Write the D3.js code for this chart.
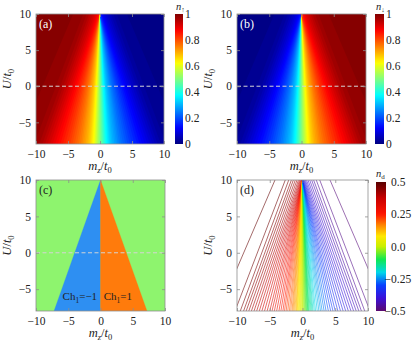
<!DOCTYPE html>
<html><head><meta charset="utf-8">
<script src="https://cdn.jsdelivr.net/npm/d3@7"></script>
<style>
body{margin:0;background:#fff}
svg{display:block}
text{font-family:"Liberation Serif","Times New Roman",serif;fill:#222}
</style>
</head><body>
<svg id="chart" width="415" height="342"></svg>
<script>
// ---------------- data ----------------
const mzDomain = [-10, 10];
const uDomain = [-8, 10];
const mzTicks = [-10, -5, 0, 5, 10];
const uTicks = [-5, 0, 5, 10];
const nTicks = [0, 0.2, 0.4, 0.6, 0.8, 1];
const nTickLabels = ["0", "0.2", "0.4", "0.6", "0.8", "1"];
const ndTicks = [0.5, 0.25, 0, -0.25, -0.5];
const ndTickLabels = ["0.5", "0.25", "0.0", "0.25", "0.5"];
const ndTickNeg = [false, false, false, true, true];

// contour lines of n_d (straight lines), left to right:
// level, m_z at U=10 (top) and m_z at U=-8 (bottom)
const contourLevel = [
 0.4875,0.475,0.4625,0.45,0.4375,0.425,0.4125,0.4,0.3875,0.375,
 0.3625,0.35,0.3375,0.325,0.3125,0.3,0.2875,0.275,0.2625,0.25,
 0.2375,0.225,0.2125,0.2,0.1875,0.175,0.1625,0.15,0.1375,0.125,
 0.1125,0.1,0.0875,0.075,0.0625,0.05,0.0375,0.025,0.0125,0,
 -0.0125,-0.025,-0.0375,-0.05,-0.0625,-0.075,-0.0875,-0.1,-0.1125,-0.125,
 -0.1375,-0.15,-0.1625,-0.175,-0.1875,-0.2,-0.2125,-0.225,-0.2375,-0.25,
 -0.2625,-0.275,-0.2875,-0.3,-0.3125,-0.325,-0.3375,-0.35,-0.3625,-0.375,
 -0.3875,-0.4,-0.4125,-0.425,-0.4375,-0.45,-0.4625,-0.475,-0.4875];
const contourTopM = [
 -4.2,-2.63,-2.1,-1.7,-1.4,-1.1,-0.84,-0.62,-0.45,-0.32,
 -0.22,-0.14,-0.08,-0.04,-0.02,0,0,0,0,0,
 0,0,0,0,0,0,0,0,0,0,
 0,0,0,0,0,0,0,0,0,0,
 0,0,0,0,0,0,0,0,0,0,
 0,0,0,0,0,0,0,0,0,0,
 0,0,0,0,0.02,0.04,0.08,0.14,0.22,0.32,
 0.45,0.62,0.84,1.1,1.4,1.7,2.1,2.63,4.2];
const contourBottomM = [
 -12.8,-10.3,-9.5,-9.0,-8.6,-8.2,-7.8,-7.4,-7.0,-6.6,
 -6.2,-5.8,-5.4,-5.0,-4.65,-4.3,-3.95,-3.6,-3.3,-3.0,
 -2.75,-2.5,-2.25,-2.0,-1.8,-1.6,-1.45,-1.3,-1.15,-1.0,
 -0.9,-0.8,-0.7,-0.6,-0.5,-0.4,-0.3,-0.2,-0.1,0,
 0.1,0.2,0.3,0.4,0.5,0.6,0.7,0.8,0.9,1.0,
 1.15,1.3,1.45,1.6,1.8,2.0,2.25,2.5,2.75,3.0,
 3.3,3.6,3.95,4.3,4.65,5.0,5.4,5.8,6.2,6.6,
 7.0,7.4,7.8,8.2,8.6,9.0,9.5,10.3,12.8];
const ndRange = [0.5, -0.5];

// phase diagram (c)
const phaseApex = {m: 0, U: 10};
const phaseBaseU = -8;
const phaseBaseM = [-7.2, 0, 7.2];
const phaseColors = {trivial: "#8ef46e", minus: "#2e8ff2", plus: "#ff7b0c"};
const chernLabelM = [-3.2, 2.7];
const chernLabelU = -6.5;
const chernValues = ["−1", "1"];

// n_d colormap stops
const ndCmapStops = [-0.5, -0.4, -0.3, -0.2, -0.1, 0, 0.08, 0.16, 0.25, 0.375, 0.5];
const ndCmapColors = ["#5b0a6e", "#3a10d8", "#0840ff", "#00d8e8", "#10e850", "#c8f000", "#ffe800", "#ff8c00", "#ff1500", "#c80000", "#580000"];

// ---------------- layout ----------------
const svg = d3.select("#chart");
const P = {
  a: {x0: 36, x1: 164, y0: 14, y1: 144},
  b: {x0: 237, x1: 366, y0: 14, y1: 144},
  c: {x0: 36, x1: 165, y0: 180, y1: 311},
  d: {x0: 237, x1: 368, y0: 180, y1: 311}
};
const FRAME = "#8e8e8e";
const SERIF = '"Liberation Serif","Times New Roman",serif';

function jet(t) {
  const c = v => Math.max(0, Math.min(1, v));
  const r = c(Math.min(4*t - 1.5, -4*t + 4.5));
  const g = c(Math.min(4*t - 0.5, -4*t + 3.5));
  const b = c(Math.min(4*t + 0.5, -4*t + 2.5));
  return d3.rgb(r*255, g*255, b*255).formatHex();
}
const ndColor = d3.scaleLinear().domain(ndCmapStops).range(ndCmapColors).interpolate(d3.interpolateRgb);

const defs = svg.append("defs");
function scalesFor(p) {
  return {
    x: d3.scaleLinear().domain(mzDomain).range([p.x0, p.x1]),
    y: d3.scaleLinear().domain(uDomain).range([p.y1, p.y0])
  };
}
function clipFor(id, p) {
  defs.append("clipPath").attr("id", id).append("rect")
    .attr("x", p.x0).attr("y", p.y0).attr("width", p.x1 - p.x0).attr("height", p.y1 - p.y0);
  return "url(#" + id + ")";
}

function drawAxes(p, s, withDash) {
  const g = svg.append("g");
  if (withDash) {
    g.append("line").attr("x1", p.x0).attr("x2", p.x1).attr("y1", s.y(0)).attr("y2", s.y(0))
      .attr("stroke", "#d4d4d4").attr("stroke-width", 1).attr("stroke-dasharray", "4,2.5");
  }
  const fmt = d => d < 0 ? "−" + Math.abs(d) : String(d);
  const ax = g.append("g").attr("transform", `translate(0,${p.y1})`)
    .call(d3.axisBottom(s.x).tickValues(mzTicks).tickSize(-3).tickPadding(6).tickFormat(fmt));
  const ay = g.append("g").attr("transform", `translate(${p.x0},0)`)
    .call(d3.axisLeft(s.y).tickValues(uTicks).tickSize(-3).tickPadding(5).tickFormat(fmt));
  const at = g.append("g").attr("transform", `translate(0,${p.y0})`)
    .call(d3.axisTop(s.x).tickValues(mzTicks).tickSize(-3).tickFormat(""));
  const ar = g.append("g").attr("transform", `translate(${p.x1},0)`)
    .call(d3.axisRight(s.y).tickValues(uTicks).tickSize(-3).tickFormat(""));
  [ax, ay, at, ar].forEach(a => {
    a.attr("font-family", SERIF);
    a.select(".domain").remove();
    a.selectAll("line").attr("stroke", FRAME).attr("stroke-width", 0.8);
    a.selectAll("text").attr("font-size", 11.5).attr("fill", "#222").style("font-family", SERIF);
  });
  g.append("rect").attr("x", p.x0).attr("y", p.y0).attr("width", p.x1 - p.x0).attr("height", p.y1 - p.y0)
    .attr("fill", "none").attr("stroke", FRAME).attr("stroke-width", 0.8);
  // axis labels
  const cx = (p.x0 + p.x1) / 2;
  const xl = svg.append("text").attr("x", cx).attr("y", p.y1 + 26).attr("text-anchor", "middle").attr("font-size", 12.5);
  xl.append("tspan").attr("font-style", "italic").text("m");
  xl.append("tspan").attr("font-style", "italic").attr("font-size", 8.5).attr("dy", 2.5).text("z");
  xl.append("tspan").attr("dy", -2.5).text("/");
  xl.append("tspan").attr("font-style", "italic").text("t");
  xl.append("tspan").attr("font-size", 8.5).attr("dy", 2.5).text("0");
  const cy = (p.y0 + p.y1) / 2;
  const lx = p.x0 - 25;
  const yl = svg.append("text").attr("transform", `translate(${lx},${cy}) rotate(-90)`).attr("text-anchor", "middle").attr("font-size", 12.5);
  yl.append("tspan").attr("font-style", "italic").text("U");
  yl.append("tspan").text("/");
  yl.append("tspan").attr("font-style", "italic").text("t");
  yl.append("tspan").attr("font-size", 8.5).attr("dy", 2.5).text("0");
}

// filled band plot for (a) and (b)
function drawBands(key, valueOf) {
  const p = P[key], s = scalesFor(p);
  const clip = clipFor("clip-" + key, p);
  const g = svg.append("g").attr("clip-path", clip);
  const n = contourLevel.length;
  const leftVal = (ndRange[0] + contourLevel[0]) / 2;
  g.append("rect").attr("x", p.x0).attr("y", p.y0).attr("width", p.x1 - p.x0).attr("height", p.y1 - p.y0)
    .attr("fill", jet(valueOf(leftVal)));
  const far = s.x.range()[1] + 200;
  for (let i = 0; i < n; i++) {
    const next = i < n - 1 ? contourLevel[i + 1] : ndRange[1];
    const v = (contourLevel[i] + next) / 2;
    const pts = [[s.x(contourTopM[i]), s.y(uDomain[1])], [far, s.y(uDomain[1])],
                 [far, s.y(uDomain[0])], [s.x(contourBottomM[i]), s.y(uDomain[0])]];
    g.append("polygon").attr("points", pts.map(q => q.join(",")).join(" ")).attr("fill", jet(valueOf(v)));
  }
  drawAxes(p, s, true);
}

function colorbarN(x0, x1, y0, y1, colorFn, arrow, id) {
  const grad = defs.append("linearGradient").attr("id", id).attr("x1", 0).attr("y1", 1).attr("x2", 0).attr("y2", 0);
  d3.range(0, 1.0001, 0.02).forEach(t => grad.append("stop").attr("offset", t).attr("stop-color", colorFn(t)));
  svg.append("rect").attr("x", x0).attr("y", y0).attr("width", x1 - x0).attr("height", y1 - y0).attr("fill", `url(#${id})`);
  const ys = d3.scaleLinear().domain([0, 1]).range([y1, y0]);
  nTicks.forEach((t, i) => {
    svg.append("text").attr("x", x1 + 2).attr("y", ys(t) + 4).attr("font-size", 11.5).text(nTickLabels[i]);
  });
  const tt = svg.append("text").attr("x", x0 + 1).attr("y", y0 - 4).attr("font-size", 10.5);
  tt.append("tspan").attr("font-style", "italic").text("n");
  tt.append("tspan").attr("font-size", 7).attr("dy", 1.5).text(arrow);
}

// ---- (a) ----
drawBands("a", v => 0.5 + v);
colorbarN(175, 183, P.a.y0, P.a.y1, jet, "↑", "gradA");
// ---- (b) ----
drawBands("b", v => 0.5 - v);
colorbarN(375, 384, P.b.y0, P.b.y1, jet, "↓", "gradB");

// ---- (c) ----
(function () {
  const p = P.c, s = scalesFor(p);
  const g = svg.append("g").attr("clip-path", clipFor("clip-c", p));
  g.append("rect").attr("x", p.x0).attr("y", p.y0).attr("width", p.x1 - p.x0).attr("height", p.y1 - p.y0)
    .attr("fill", phaseColors.trivial);
  const apex = [s.x(phaseApex.m), s.y(phaseApex.U)];
  const tri = (a, b, col) => g.append("polygon")
    .attr("points", [apex, [s.x(a), s.y(phaseBaseU)], [s.x(b), s.y(phaseBaseU)]].map(q => q.join(",")).join(" "))
    .attr("fill", col).attr("stroke", col).attr("stroke-width", 0.3);
  tri(phaseBaseM[0], phaseBaseM[1], phaseColors.minus);
  tri(phaseBaseM[1], phaseBaseM[2], phaseColors.plus);
  drawAxes(p, s, true);
  chernLabelM.forEach((m, i) => {
    const t = svg.append("text").attr("x", s.x(m)).attr("y", s.y(chernLabelU)).attr("text-anchor", "middle")
      .attr("font-size", 11).attr("fill", "#1a1a1a");
    t.append("tspan").text("Ch");
    t.append("tspan").attr("font-size", 7.5).attr("dy", 2.5).text("1");
    t.append("tspan").attr("dy", -2.5).text("=" + chernValues[i]);
  });
})();

// ---- (d) ----
(function () {
  const p = P.d, s = scalesFor(p);
  const g = svg.append("g").attr("clip-path", clipFor("clip-d", p));
  g.append("rect").attr("x", p.x0).attr("y", p.y0).attr("width", p.x1 - p.x0).attr("height", p.y1 - p.y0).attr("fill", "#fff");
  contourLevel.forEach((lv, i) => {
    g.append("line")
      .attr("x1", s.x(contourTopM[i])).attr("y1", s.y(uDomain[1]))
      .attr("x2", s.x(contourBottomM[i])).attr("y2", s.y(uDomain[0]))
      .attr("stroke", ndColor(lv)).attr("stroke-width", 0.65).attr("stroke-opacity", 0.9);
  });
  drawAxes(p, s, false);
  // colorbar
  const x0 = 376, x1 = 386, y0 = 182, y1 = p.y1;
  const grad = defs.append("linearGradient").attr("id", "gradD").attr("x1", 0).attr("y1", 1).attr("x2", 0).attr("y2", 0);
  d3.range(0, 1.0001, 0.02).forEach(t => grad.append("stop").attr("offset", t).attr("stop-color", ndColor(-0.5 + t)));
  svg.append("rect").attr("x", x0).attr("y", y0).attr("width", x1 - x0).attr("height", y1 - y0).attr("fill", "url(#gradD)");
  const ys = d3.scaleLinear().domain([-0.5, 0.5]).range([y1, y0]);
  ndTicks.forEach((t, i) => {
    const tx = x1 + 5;
    svg.append("text").attr("x", tx).attr("y", ys(t) + 4).attr("font-size", 11.5).text(ndTickLabels[i]);
    if (ndTickNeg[i]) svg.append("text").attr("x", tx).attr("y", ys(t) + 4).attr("text-anchor", "end").attr("font-size", 11.5).text("−");
  });
  const tt = svg.append("text").attr("x", x0).attr("y", y0 - 5).attr("font-size", 10.5);
  tt.append("tspan").attr("font-style", "italic").text("n");
  tt.append("tspan").attr("font-size", 7).attr("dy", 1.5).text("d");
})();

// panel letters
[["(a)", P.a, "#fff"], ["(b)", P.b, "#fff"], ["(c)", P.c, "#222"], ["(d)", P.d, "#222"]].forEach(([t, p, c]) => {
  svg.append("text").attr("x", p.x0 + 3).attr("y", p.y0 + 14).attr("font-size", 12).attr("fill", c).style("fill", c).text(t);
});
</script>
</body></html>
